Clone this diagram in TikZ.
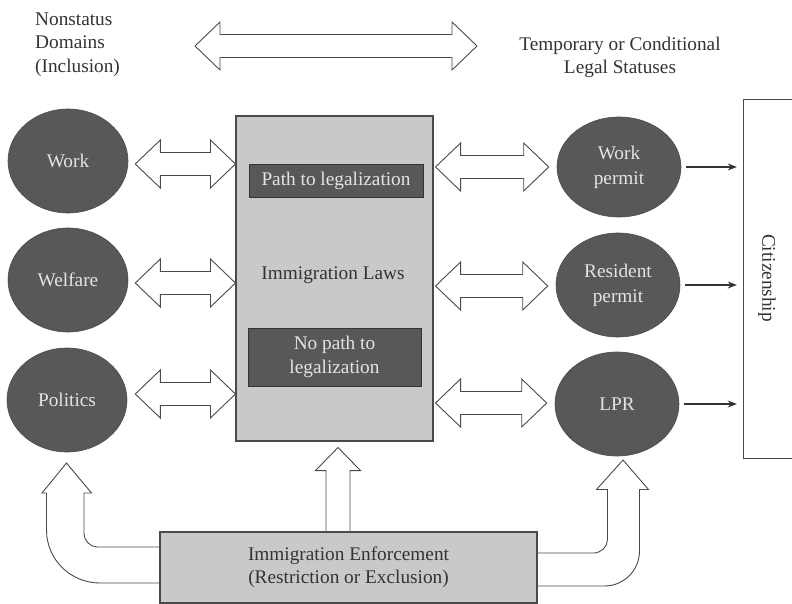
\documentclass[tikz,border=0pt]{standalone}
\usepackage{fontspec}
\setmainfont{Liberation Serif}
\usetikzlibrary{calc,arrows.meta,shapes.geometric,backgrounds}
\definecolor{ellfill}{HTML}{585858}
\definecolor{elltxt}{HTML}{E4E4E4}
\definecolor{lgray}{HTML}{C9C9C9}
\definecolor{edgec}{HTML}{4A4A4A}
\definecolor{txtc}{HTML}{333333}
\newcommand\dblarrow[2]{\draw[blockarr] let \p1=#1, \p2=#2 in
  (\x1,\y1) -- ({\x1+25pt},{\y1+24pt}) -- ({\x1+25pt},{\y1+11.5pt}) --
  ({\x2-25pt},{\y1+11.5pt}) -- ({\x2-25pt},{\y1+24pt}) -- (\x2,\y1) --
  ({\x2-25pt},{\y1-24pt}) -- ({\x2-25pt},{\y1-11.5pt}) --
  ({\x1+25pt},{\y1-11.5pt}) -- ({\x1+25pt},{\y1-24pt}) -- cycle;}
\begin{document}
\begin{tikzpicture}[x=1pt,y=-1pt,
  every node/.style={font=\fontsize{19.3}{23.5}\selectfont, inner sep=0pt, text=txtc},
  ellnode/.style={ellipse, fill=ellfill, draw=ellfill!85!black, line width=0.6pt,
     minimum width=124pt, minimum height=104pt, text=elltxt, align=center,
     font=\fontsize{19.3}{25}\selectfont},
  graybox/.style={rectangle, fill=lgray, draw=edgec, line width=1.1pt},
  darkbox/.style={rectangle, fill=ellfill, draw=edgec!70!black, line width=0.8pt, text=elltxt, align=center},
  blockarr/.style={draw=edgec, line width=0.9pt, fill=white, line join=miter},
  smallarr/.style={draw=txtc, line width=1.1pt, -{Stealth[length=9pt,width=7pt]}, shorten <=5pt, shorten >=7pt}]
\useasboundingbox (0,0) rectangle (792,604);

% top texts
\node[anchor=north west, align=left] (nonstatus) at (35,12.5) {Nonstatus\\Domains\\(Inclusion)};
\node[anchor=north, align=center] (temp) at (620,36.5) {Temporary or Conditional\\Legal Statuses};
\coordinate (topl) at (195,46);
\coordinate (topr) at (477,46);
\dblarrow{(topl)}{(topr)}

% left ellipses
\node[ellnode, minimum width=120pt] (work) at (68,161) {Work};
\node[ellnode, minimum width=120pt] (welfare) at (68,280) {Welfare};
\node[ellnode, minimum width=120pt] (politics) at (67,400) {Politics};

% laws box
\node[graybox, minimum width=197pt, minimum height=325pt] (laws) at (334.5,278.5) {};
\node (lawtxt) at (333,275) {Immigration Laws};
\node[darkbox, minimum width=174pt, minimum height=33pt] (path) at (336,180.5) {Path to legalization};
\node[darkbox, minimum width=173pt, minimum height=58pt] (nopath) at (334.5,357) {No path to\\legalization};

% right ellipses
\node[ellnode, minimum height=100pt] (wp) at (619,167) {Work\\permit};
\node[ellnode] (rp) at (618,285) {Resident\\permit};
\node[ellnode] (lpr) at (617,404) {LPR};

% citizenship
\node[minimum width=48pt, minimum height=358pt] (cit) at (768,279) {};
\draw[draw=edgec, line width=1pt] (cit.north east) -- (cit.north west) -- (cit.south west) -- (cit.south east);
\node[rotate=-90] (cittxt) at (767,278) {Citizenship};

% enforcement
\node[graybox, minimum width=377pt, minimum height=71pt, align=center] (enf) at (348.5,567.5)
  {Immigration Enforcement\\(Restriction or Exclusion)};

% double arrows left
\dblarrow{($(work.east)+(7,3)$)}{(laws.west |- work.east)}
\dblarrow{($(welfare.east)+(7,3)$)}{(laws.west |- welfare.east)}
\dblarrow{($(politics.east)+(8,-6)$)}{(laws.west |- politics.east)}
% double arrows right
\dblarrow{($(laws.east |- wp.west)+(2,0)$)}{($(wp.west)+(-8,0)$)}
\dblarrow{($(laws.east |- rp.west)+(2,1)$)}{($(rp.west)+(-8,0)$)}
\dblarrow{($(laws.east |- lpr.west)+(2,-1)$)}{($(lpr.west)+(-8,0)$)}

% small arrows to citizenship
\draw[smallarr] (wp.east) -- (cit.west |- wp.east);
\draw[smallarr] (rp.east) -- (cit.west |- rp.east);
\draw[smallarr] (lpr.east) -- (cit.west |- lpr.east);

% arrows from enforcement
\begin{scope}[on background layer]
\fill[white] (0,0) rectangle (792,604);
\draw[blockarr] let \p1=(enf.north), \p2=($(laws.south)+(3.5,6)$) in
  ({\x2-12pt},\y1) -- ({\x2-12pt},{\y2-23pt}) -- ({\x2-22.5pt},{\y2-23pt}) -- (\x2,\y2) --
  ({\x2+22.5pt},{\y2-23pt}) -- ({\x2+12pt},{\y2-23pt}) -- ({\x2+12pt},\y1);
\draw[blockarr] (enf.west |- 0,547) -- (97,547) .. controls (89.8,547) and (84,539.8) .. (84,534)
  -- (84,493) -- (91.5,493) -- (66.5,463) -- (42,493) -- (46.5,493) -- (46.5,530)
  .. controls (46.5,559.5) and (70.5,583) .. (100,583) -- (enf.west |- 0,583);
\draw[blockarr] (enf.east |- 0,553) -- (593.5,553) .. controls (601.2,553) and (607.5,546.7) .. (607.5,539.5)
  -- (607.5,489.5) -- (596.5,489.5) -- (623,460) -- (648.5,489.5) -- (639.5,489.5) -- (639.5,551)
  .. controls (639.5,570.3) and (623.8,586) .. (604.5,586) -- (enf.east |- 0,586);
\end{scope}
\end{tikzpicture}
\end{document}
